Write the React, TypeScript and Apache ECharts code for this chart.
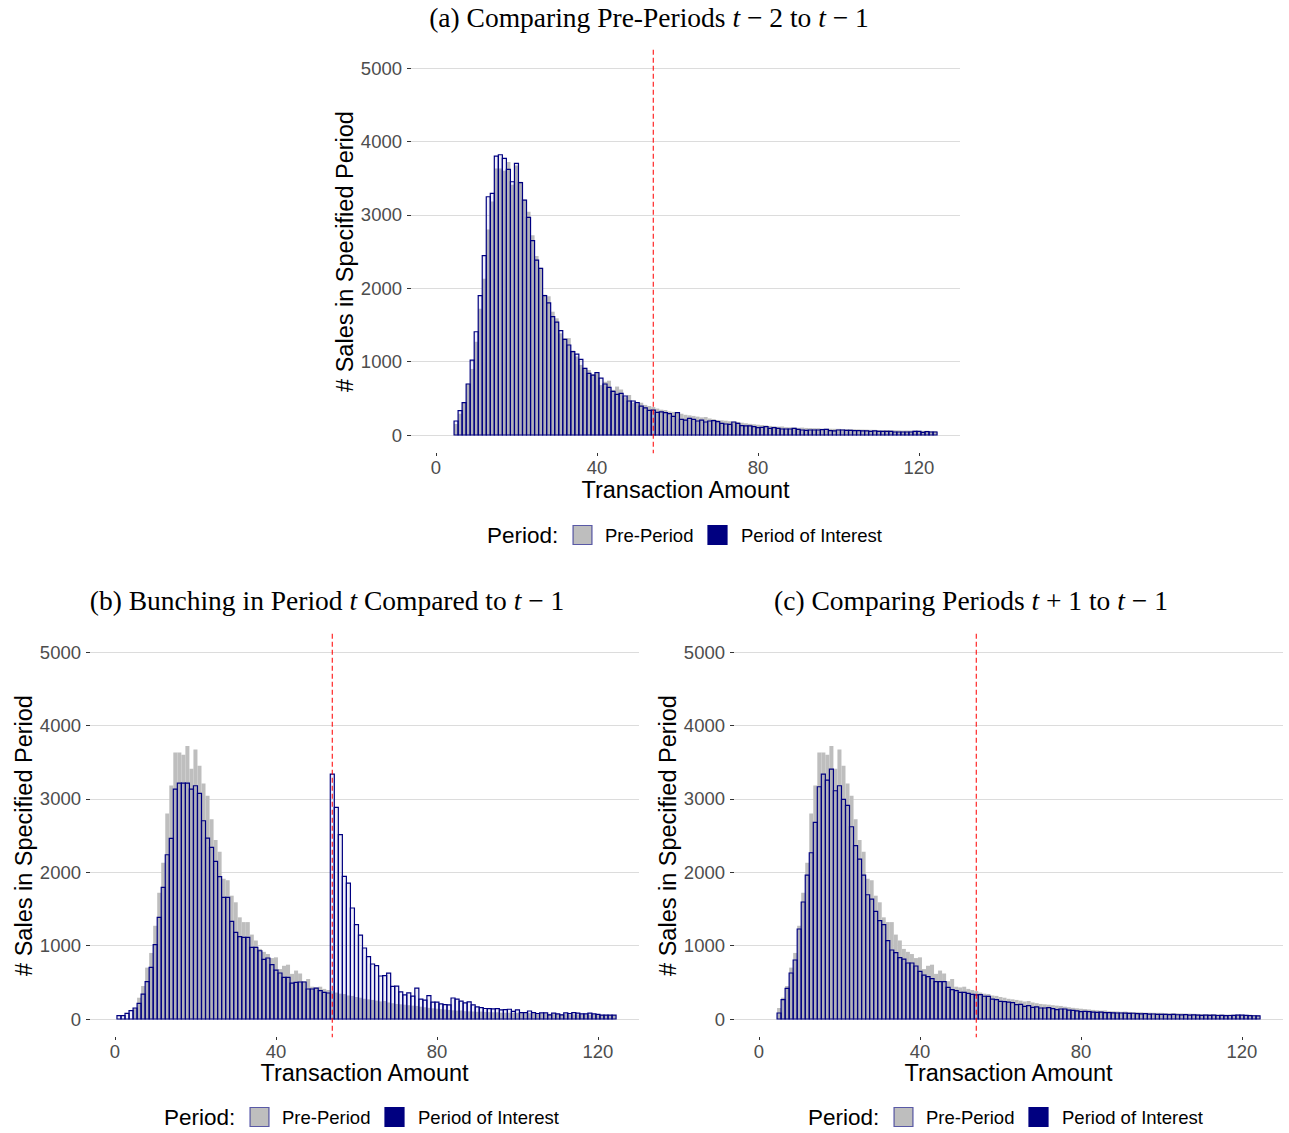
import React, { useEffect, useRef } from "react";
import * as echarts from "echarts";

// ---------- data (bins of width 1, centred on integer amounts) ----------
const PRE_START = 5;
const PRE_PERIOD = [
  150, 290, 450, 700, 900, 1270, 1720, 2130, 2800, 3180,
  3630, 3630, 3600, 3720, 3410, 3670, 3450, 3210, 3040, 2720,
  2440, 2280, 1910, 1890, 1680, 1590, 1385, 1320, 1320, 1150,
  1070, 955, 915, 885, 830, 840, 680, 725, 740, 615,
  660, 620, 515, 545, 440, 430, 440, 410, 395, 380,
  360, 345, 340, 320, 315, 300, 290, 275, 268, 260,
  250, 240, 245, 225, 215, 205, 200, 195, 188, 182,
  178, 168, 160, 152, 146, 140, 135, 130, 124, 118,
  114, 116, 106, 104, 102, 98, 101, 96, 94, 92,
  92, 86, 86, 85, 84, 84, 80, 79, 80, 77,
  76, 74, 73, 71, 70, 68, 67, 68, 65, 64,
  63, 60, 61, 60, 62, 58, 57, 58, 55, 54,
];

const A_START = 5; // period t-2
const PERIOD_A = [
  191, 331, 440, 695, 1021, 1407, 1898, 2443, 3246, 3291,
  3800, 3818, 3768, 3618, 3450, 3700, 3437, 3200, 2965, 2647,
  2383, 2270, 1898, 1800, 1612, 1539, 1421, 1303, 1226, 1135,
  1103, 1031, 908, 840, 817, 849, 776, 695, 649, 595,
  554, 567, 531, 463, 463, 440, 393, 370, 335, 340,
  309, 314, 306, 290, 255, 306, 213, 204, 227, 213,
  191, 204, 177, 191, 195, 182, 159, 150, 145, 177,
  159, 127, 123, 123, 113, 100, 104, 113, 91, 100,
  91, 82, 82, 82, 91, 77, 68, 64, 68, 68,
  68, 72, 77, 59, 55, 68, 68, 64, 64, 59,
  59, 55, 55, 50, 55, 50, 50, 50, 50, 41,
  41, 41, 41, 41, 50, 50, 36, 45, 41, 41,
];

const B_START = 1; // period t
const PERIOD_B = [
  45, 45, 77, 113, 150, 213, 340, 508, 704, 1012,
  1385, 1793, 2238, 2461, 3133, 3214, 3214, 3214, 3133, 3178,
  3074, 2701, 2465, 2338, 2147, 1939, 1657, 1657, 1330, 1180,
  1121, 1112, 1112, 976, 976, 930, 813, 831, 740, 667,
  627, 567, 567, 490, 499, 504, 504, 409, 409, 422,
  386, 363, 354, 3337, 2883, 2511, 1943, 1852, 1512, 1285,
  1144, 967, 849, 749, 726, 586, 590, 625, 445, 448,
  370, 330, 355, 311, 422, 272, 256, 318, 229, 229,
  206, 195, 193, 286, 272, 243, 220, 234, 193, 165,
  156, 143, 140, 138, 140, 125, 127, 133, 104, 125,
  88, 88, 109, 88, 75, 84, 84, 56, 80, 70,
  56, 84, 75, 86, 80, 70, 70, 80, 70, 62,
  54, 54, 54, 54,
];

const C_START = 5; // period t+1
const PERIOD_C = [
  82, 263, 418, 627, 804, 1226, 1594, 1961, 2265, 2679,
  3164, 3337, 3255, 3405, 3110, 3178, 2992, 2910, 2619, 2361,
  2179, 1961, 1693, 1634, 1466, 1339, 1285, 1067, 940, 903,
  835, 817, 763, 763, 722, 649, 599, 577, 549, 508,
  508, 508, 431, 400, 386, 363, 363, 350, 335, 330,
  331, 310, 309, 270, 265, 240, 236, 231, 222, 195,
  200, 172, 182, 159, 165, 150, 150, 154, 140, 127,
  136, 136, 120, 118, 110, 100, 104, 100, 95, 91,
  95, 88, 86, 84, 82, 82, 80, 76, 78, 72,
  70, 72, 66, 68, 64, 64, 62, 60, 64, 58,
  56, 60, 54, 56, 52, 50, 52, 50, 54, 48,
  50, 46, 48, 50, 52, 54, 50, 46, 44, 42,
];

const THRESHOLD = 54;
const X_TICKS = [0, 40, 80, 120];
const Y_MIN = 0;
const Y_MAX = 5000;
const Y_STEP = 1000;
const TITLES = [
  "(a) Comparing Pre-Periods {i|t} − 2 to {i|t} − 1",
  "(b) Bunching in Period {i|t} Compared to {i|t} − 1",
  "(c) Comparing Periods {i|t} + 1 to {i|t} − 1",
];
const X_NAME = "Transaction Amount";
const Y_NAME = "# Sales in Specified Period";
const LEGEND_TITLE = "Period:";
const LEGEND_ITEMS = ["Pre-Period", "Period of Interest"];

// ---------- styling / layout ----------
const NAVY = "#000080";
const GREY = "#bebebe";
const SANS = '"Liberation Sans", Arial, sans-serif';
const SERIF = '"Liberation Serif", "Times New Roman", serif';

const PANELS = [
  { left: 411, top: 68, titleX: 649, titleY: 17, xNameY: 490, yNameX: 345, legendX: 487, legendY: 535 },
  { left: 90, top: 652, titleX: 327, titleY: 600, xNameY: 1073, yNameX: 24, legendX: 164, legendY: 1117 },
  { left: 734, top: 652, titleX: 971, titleY: 600, xNameY: 1073, yNameX: 668, legendX: 808, legendY: 1117 },
];
const GRID_W = 549;
const GRID_H = 367;

const toBins = (start: number, values: number[]) => values.map((v, i) => [start + i, v]);

function barSeries(g: number, data: number[][], pre: boolean) {
  return {
    type: "custom",
    xAxisIndex: g,
    yAxisIndex: g,
    data,
    silent: true,
    z: pre ? 2 : 3,
    renderItem: (_p: any, api: any) => {
      const k = api.value(0);
      const v = api.value(1);
      const a = api.coord([k - 0.5, v]);
      const b = api.coord([k + 0.5, 0]);
      return {
        type: "rect",
        shape: { x: a[0], y: a[1], width: b[0] - a[0], height: b[1] - a[1] },
        style: pre
          ? { fill: GREY }
          : { fill: "rgba(0,0,128,0.06)", stroke: NAVY, lineWidth: 1.2 },
      };
    },
  };
}

function thresholdSeries(g: number) {
  return {
    type: "custom",
    xAxisIndex: g,
    yAxisIndex: g,
    data: [[THRESHOLD, 0]],
    clip: false,
    silent: true,
    z: 5,
    renderItem: (_p: any, api: any) => {
      const x = api.value(0);
      const t = api.coord([x, Y_MAX + 250]);
      const b = api.coord([x, Y_MIN - 250]);
      return {
        type: "line",
        shape: { x1: t[0], y1: t[1], x2: b[0], y2: b[1] },
        style: { stroke: "rgba(255,0,0,0.85)", lineWidth: 1.2, lineDash: [5, 3] },
      };
    },
  };
}

export default function App() {
  const ref = useRef<HTMLDivElement>(null);

  useEffect(() => {
    if (!ref.current) return;
    const chart = echarts.init(ref.current, undefined, { renderer: "svg" });

    const periodData = [
      toBins(A_START, PERIOD_A),
      toBins(B_START, PERIOD_B),
      toBins(C_START, PERIOD_C),
    ];
    const preData = toBins(PRE_START, PRE_PERIOD);

    const grids = PANELS.map((p) => ({ left: p.left, top: p.top, width: GRID_W, height: GRID_H }));

    const xAxes = PANELS.map((_p, g) => ({
      type: "value",
      gridIndex: g,
      min: -6.2,
      max: 130.2,
      offset: 18,
      axisLine: { show: false, onZero: false },
      axisTick: { show: true, length: 3, customValues: X_TICKS, lineStyle: { color: "#333333" } },
      axisLabel: {
        customValues: X_TICKS,
        margin: 5,
        color: "#4d4d4d",
        fontSize: 18.5,
        fontFamily: SANS,
        formatter: (v: number) => String(v),
      },
      splitLine: { show: false },
    }));

    const yAxes = PANELS.map((_p, g) => ({
      type: "value",
      gridIndex: g,
      min: Y_MIN,
      max: Y_MAX,
      interval: Y_STEP,
      axisLine: { show: false, onZero: false },
      axisTick: { show: true, length: 4, lineStyle: { color: "#333333" } },
      axisLabel: {
        margin: 9,
        color: "#4d4d4d",
        fontSize: 18.5,
        fontFamily: SANS,
        formatter: (v: number) => String(v),
      },
      splitLine: { show: true, lineStyle: { color: "#dcdcdc", width: 1 } },
    }));

    const series: any[] = [];
    PANELS.forEach((_p, g) => {
      series.push(barSeries(g, preData, true));
      series.push(barSeries(g, periodData[g], false));
      series.push(thresholdSeries(g));
    });

    const graphic: any[] = [];
    PANELS.forEach((p, g) => {
      const cx = p.left + GRID_W / 2;
      const cy = p.top - 18 + (GRID_H + 36) / 2;
      graphic.push({
        type: "text",
        x: p.titleX,
        y: p.titleY,
        style: {
          text: TITLES[g],
          fontFamily: SERIF,
          fontSize: 27.5,
          fill: "#000",
          align: "center",
          verticalAlign: "middle",
          rich: { i: { fontStyle: "italic", fontFamily: SERIF, fontSize: 27.5, fill: "#000" } },
        },
      });
      graphic.push({
        type: "text",
        x: cx,
        y: p.xNameY,
        style: { text: X_NAME, fontFamily: SANS, fontSize: 23.5, fill: "#000", align: "center", verticalAlign: "middle" },
      });
      graphic.push({
        type: "text",
        x: p.yNameX,
        y: cy,
        rotation: Math.PI / 2,
        style: { text: Y_NAME, fontFamily: SANS, fontSize: 23.5, fill: "#000", align: "center", verticalAlign: "middle" },
      });
      // legend
      const lx = p.legendX;
      const ly = p.legendY;
      graphic.push({
        type: "text",
        x: lx,
        y: ly,
        style: { text: LEGEND_TITLE, fontFamily: SANS, fontSize: 22.5, fill: "#000", align: "left", verticalAlign: "middle" },
      });
      graphic.push({
        type: "rect",
        shape: { x: lx + 86, y: ly - 9.5, width: 19, height: 19 },
        style: { fill: GREY, stroke: "rgba(0,0,128,0.6)", lineWidth: 1.2 },
      });
      graphic.push({
        type: "text",
        x: lx + 118,
        y: ly,
        style: { text: LEGEND_ITEMS[0], fontFamily: SANS, fontSize: 18.5, fill: "#000", align: "left", verticalAlign: "middle" },
      });
      graphic.push({
        type: "rect",
        shape: { x: lx + 221, y: ly - 9.5, width: 19, height: 19 },
        style: { fill: NAVY, stroke: NAVY, lineWidth: 1.2 },
      });
      graphic.push({
        type: "text",
        x: lx + 254,
        y: ly,
        style: { text: LEGEND_ITEMS[1], fontFamily: SANS, fontSize: 18.5, fill: "#000", align: "left", verticalAlign: "middle" },
      });
    });

    chart.setOption({
      animation: false,
      backgroundColor: "#ffffff",
      grid: grids,
      xAxis: xAxes,
      yAxis: yAxes,
      series,
      graphic,
    });

    return () => chart.dispose();
  }, []);

  return (
    <div
      ref={ref}
      style={{ position: "absolute", left: 0, top: 0, width: 1289, height: 1133, background: "#fff" }}
    />
  );
}
